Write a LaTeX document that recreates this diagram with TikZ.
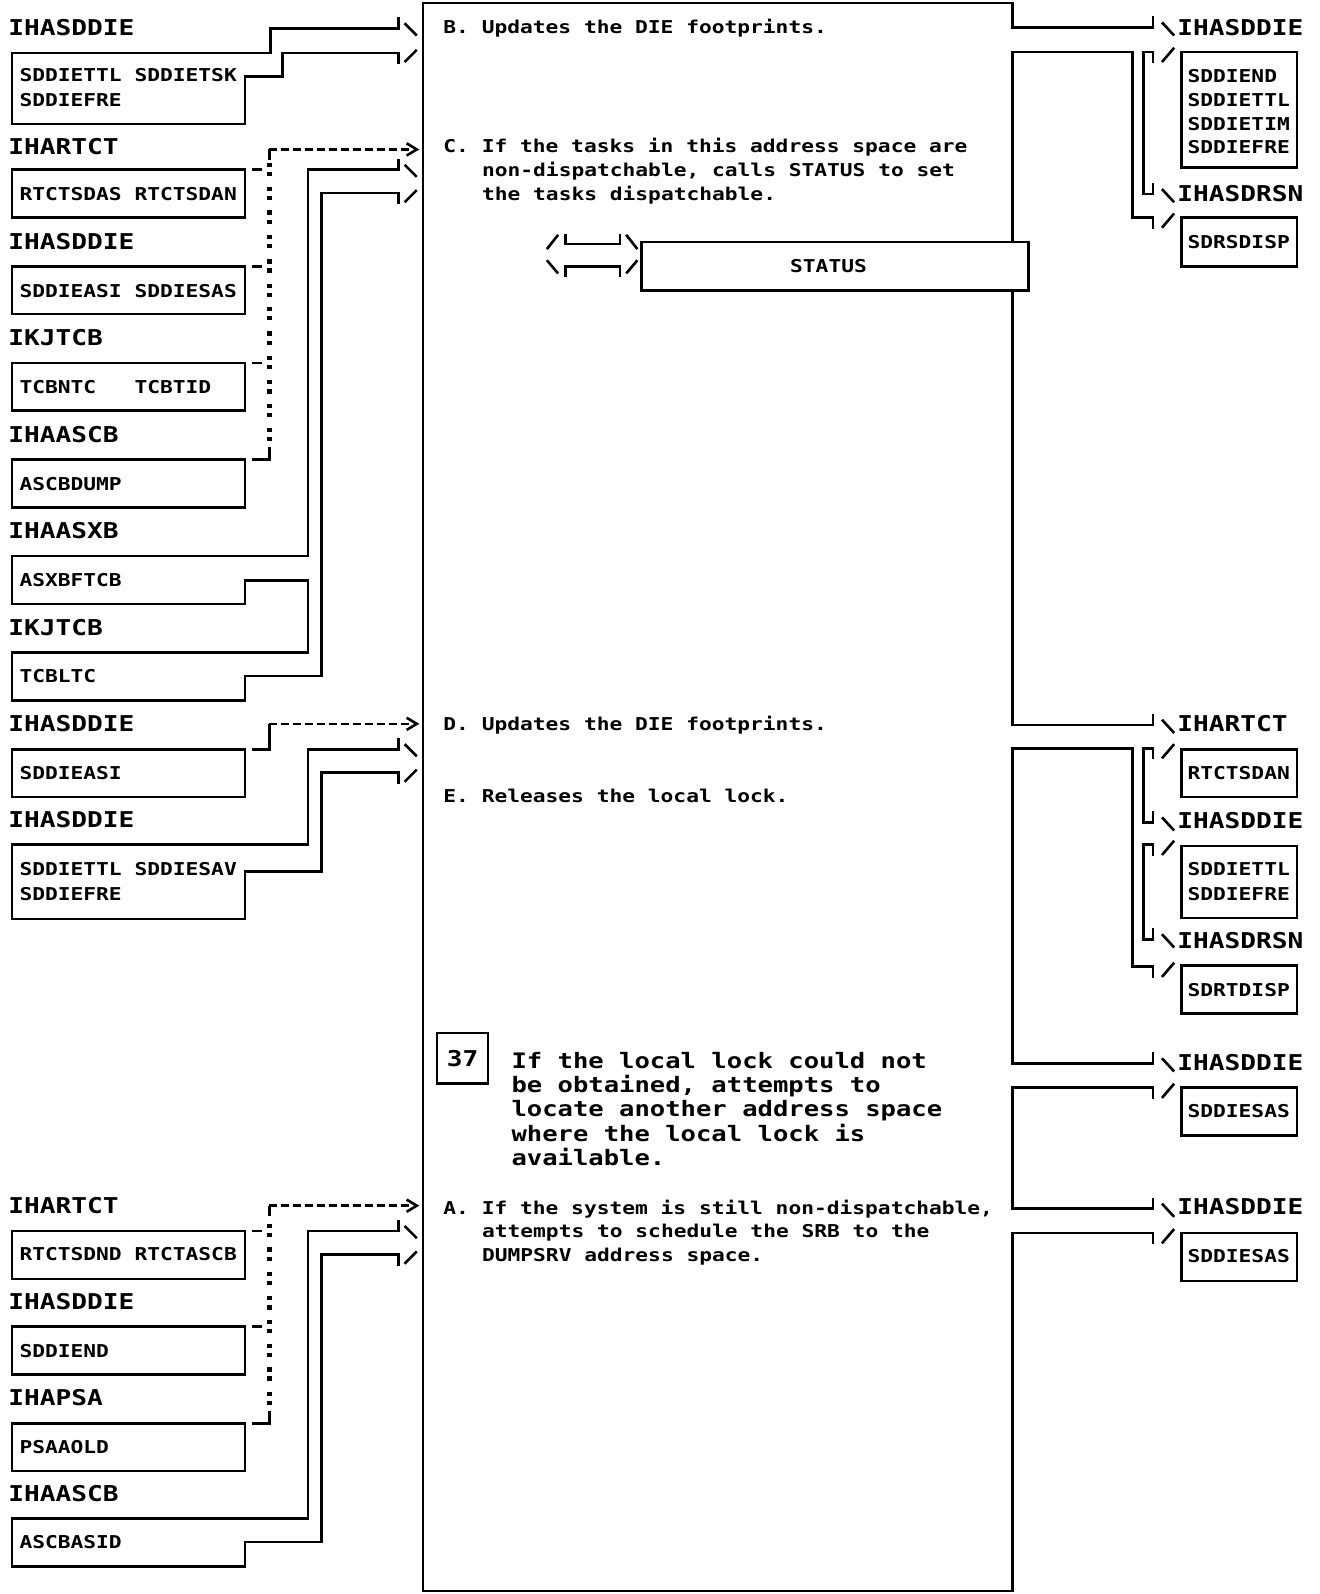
\documentclass[tikz,border=0pt]{standalone}
\usepackage{fontspec}
\newfontfamily\ibm[FakeStretch=1.2]{DejaVu Sans Mono}
\begin{document}
\begin{tikzpicture}[x=1.017pt,y=-1.017pt,
  ln/.style={line width=2.6pt, line join=miter},
  bx/.style={draw, line width=2.6pt, inner sep=0pt, outer sep=0pt, anchor=north west},
  lbl/.style={anchor=base west, inner sep=0pt, font=\ibm\bfseries\fontsize{21.8pt}{26pt}\selectfont, yshift=-7.95pt},
  txt/.style={anchor=base west, inner sep=0pt, font=\ibm\bfseries\fontsize{17.7pt}{24pt}\selectfont, yshift=-6.45pt},
  big/.style={anchor=base west, inner sep=0pt, font=\ibm\bfseries\fontsize{21.3pt}{25pt}\selectfont, yshift=-7.76pt},
  dsh/.style={line width=2.6pt, dash pattern=on 8pt off 4pt}
]
\useasboundingbox (0,0) rectangle (1298,1568);

% ---------------- left labels ----------------
\node[lbl] (l1) at (8,27) {IHASDDIE};
\node[lbl] (l2) at (8,144) {IHARTCT};
\node[lbl] (l3) at (8,238) {IHASDDIE};
\node[lbl] (l4) at (8,332) {IKJTCB};
\node[lbl] (l5) at (8,427) {IHAASCB};
\node[lbl] (l6) at (8,522) {IHAASXB};
\node[lbl] (l7) at (8,617) {IKJTCB};
\node[lbl] (l8) at (8,712) {IHASDDIE};
\node[lbl] (l9) at (8,806) {IHASDDIE};
\node[lbl] (l10) at (8,1186) {IHARTCT};
\node[lbl] (l11) at (8,1280) {IHASDDIE};
\node[lbl] (l12) at (8,1375) {IHAPSA};
\node[lbl] (l13) at (8,1469) {IHAASCB};

% ---------------- left closed boxes ----------------
\foreach \nm/\yy in {b2/167,b3/262,b4/357,b5/452,b8/737,b10/1211,b11/1305,b12/1400}
  \node[bx, minimum width={229*1.017pt}, minimum height={47*1.017pt}] (\nm) at (12,\yy) {};

% ---------------- left box texts ----------------
\node[txt] (t1a) at (19,74) {SDDIETTL SDDIETSK};
\node[txt] (t1b) at (19,98) {SDDIEFRE};
\node[txt] (t2) at (19,191) {RTCTSDAS RTCTSDAN};
\node[txt] (t3) at (19,286) {SDDIEASI SDDIESAS};
\node[txt] (t4) at (19,381) {TCBNTC\phantom{XXX}TCBTID};
\node[txt] (t5) at (19,476) {ASCBDUMP};
\node[txt] (t6) at (19,571) {ASXBFTCB};
\node[txt] (t7) at (19,665) {TCBLTC};
\node[txt] (t8) at (19,760) {SDDIEASI};
\node[txt] (t9a) at (19,855) {SDDIETTL SDDIESAV};
\node[txt] (t9b) at (19,879) {SDDIEFRE};
\node[txt] (t10) at (19,1234) {RTCTSDND RTCTASCB};
\node[txt] (t11) at (19,1329) {SDDIEND};
\node[txt] (t12) at (19,1423) {PSAAOLD};
\node[txt] (t13) at (19,1517) {ASCBASID};

% ---------------- left fat arrows (open boxes merged) ----------------
\draw[ln] (392,17) -- (392,28) -- (266,28) -- (266,52) -- (12,52) -- (12,122) -- (241,122) -- (241,75) -- (278,75) -- (278,52) -- (392,52) -- (392,63);
\draw[ln] (392,156) -- (392,167) -- (303,167) -- (303,547) -- (12,547) -- (12,594) -- (241,594) -- (241,571) -- (303,571) -- (303,642) -- (12,642) -- (12,689) -- (241,689) -- (241,665) -- (316,665) -- (316,190) -- (392,190) -- (392,201);
\draw[ln] (392,726) -- (392,737) -- (303,737) -- (303,831) -- (12,831) -- (12,904) -- (241,904) -- (241,857) -- (316,857) -- (316,760) -- (392,760) -- (392,771);
\draw[ln] (392,1200) -- (392,1211) -- (303,1211) -- (303,1494) -- (12,1494) -- (12,1541) -- (241,1541) -- (241,1517) -- (316,1517) -- (316,1234) -- (392,1234) -- (392,1245);
% slashes (arrow heads)
\foreach \yy in {28,167,737,1211} \draw[ln] (398,\yy-5) -- (410,\yy+7);
\foreach \yy in {52,190,760,1234} \draw[ln] (398,\yy+9) -- (410,\yy-3);

% ---------------- dashed reference arrows ----------------
\draw[ln] (265,157) -- (265,147);
\draw[dsh] (265,147) -- (403,147);
\draw[ln] (400,141) -- (410,147) -- (400,153);
\draw[ln] (248,737) -- (265,737) -- (265,712);
\draw[dsh] (265,712) -- (403,712);
\draw[ln] (400,706) -- (410,712) -- (400,718);
\draw[ln] (265,1196) -- (265,1186);
\draw[dsh] (265,1186) -- (403,1186);
\draw[ln] (400,1180) -- (410,1186) -- (400,1192);
% colon columns
\foreach \yy in {167,191,214,238,262,286,309,333,357,381,404,428,1211,1234,1258,1282,1305,1329,1352,1376} {
  \fill (263,\yy-7) rectangle (267.2,\yy-2.8);
  \fill (263,\yy+2) rectangle (267.2,\yy+6.2);
}
\foreach \yy in {167,262,357,1211,1305} \draw[ln] (248,\yy) -- (258,\yy);
\draw[ln] (248,452) -- (265,452) -- (265,440);
\draw[ln] (248,1400) -- (265,1400) -- (265,1388);

% ---------------- central box and right fat arrows ----------------
\draw[ln] (1134,16) -- (1134,27) -- (996,27) -- (996,3) -- (416,3) -- (416,1565) -- (996,1565) -- (996,1213) -- (1134,1213) -- (1134,1224);
\draw[ln] (1134,1178) -- (1134,1189) -- (996,1189) -- (996,1070) -- (1134,1070) -- (1134,1081);
\draw[ln] (1134,1035) -- (1134,1046) -- (996,1046) -- (996,736) -- (1114,736) -- (1114,951) -- (1134,951) -- (1134,962);
\draw[ln] (1134,702) -- (1134,713) -- (996,713) -- (996,51) -- (1114,51) -- (1114,214) -- (1134,214) -- (1134,225);
\draw[ln] (1134,62) -- (1134,51) -- (1125,51) -- (1125,191) -- (1134,191) -- (1134,180);
\draw[ln] (1134,747) -- (1134,736) -- (1125,736) -- (1125,809) -- (1134,809) -- (1134,798);
\draw[ln] (1134,842) -- (1134,831) -- (1125,831) -- (1125,924) -- (1134,924) -- (1134,913);
\foreach \yy in {27,191,713,809,924,1046,1189} \draw[ln] (1143,\yy-5) -- (1155,\yy+8);
\foreach \yy in {51,214,736,831,951,1070,1213} \draw[ln] (1143,\yy+10) -- (1155,\yy-4);

% ---------------- right labels and boxes ----------------
\node[lbl] (r1) at (1158,27) {IHASDDIE};
\node[lbl] (r2) at (1158,190) {IHASDRSN};
\node[lbl] (r3) at (1158,712) {IHARTCT};
\node[lbl] (r4) at (1158,807) {IHASDDIE};
\node[lbl] (r5) at (1158,925) {IHASDRSN};
\node[lbl] (r6) at (1158,1045) {IHASDDIE};
\node[lbl] (r7) at (1158,1187) {IHASDDIE};

\node[bx, minimum width={114*1.017pt}, minimum height={114*1.017pt}] (rb1) at (1162,51) {};
\node[bx, minimum width={114*1.017pt}, minimum height={48*1.017pt}] (rb2) at (1162,214) {};
\node[bx, minimum width={114*1.017pt}, minimum height={47*1.017pt}] (rb3) at (1162,737) {};
\node[bx, minimum width={114*1.017pt}, minimum height={71*1.017pt}] (rb4) at (1162,832) {};
\node[bx, minimum width={114*1.017pt}, minimum height={47*1.017pt}] (rb5) at (1162,950) {};
\node[bx, minimum width={114*1.017pt}, minimum height={47*1.017pt}] (rb6) at (1162,1070) {};
\node[bx, minimum width={114*1.017pt}, minimum height={47*1.017pt}] (rb7) at (1162,1213) {};

\node[txt] (rt1a) at (1168,75) {SDDIEND};
\node[txt] (rt1b) at (1168,98) {SDDIETTL};
\node[txt] (rt1c) at (1168,122) {SDDIETIM};
\node[txt] (rt1d) at (1168,145) {SDDIEFRE};
\node[txt] (rt2) at (1168,238) {SDRSDISP};
\node[txt] (rt3) at (1168,760) {RTCTSDAN};
\node[txt] (rt4a) at (1168,855) {SDDIETTL};
\node[txt] (rt4b) at (1168,879) {SDDIEFRE};
\node[txt] (rt5) at (1168,974) {SDRTDISP};
\node[txt] (rt6) at (1168,1093) {SDDIESAS};
\node[txt] (rt7) at (1168,1236) {SDDIESAS};

% ---------------- central texts ----------------
\node[txt] (sb) at (436,27) {B. Updates the DIE footprints.};
\node[txt] (sc1) at (436,144) {C. If the tasks in this address space are};
\node[txt] (sc2) at (474,167) {non-dispatchable, calls STATUS to set};
\node[txt] (sc3) at (474,191) {the tasks dispatchable.};
\node[bx, fill=white, minimum width={381*1.017pt}, minimum height={48*1.017pt}] (status) at (631,238) {};
\node[txt, anchor=base] (statust) at (815,262) {STATUS};
\draw[ln] (538,245) -- (549,231);
\draw[ln] (556,230) -- (556,240) -- (610,240) -- (610,230);
\draw[ln] (616,231) -- (627,245);
\draw[ln] (538,256) -- (549,269);
\draw[ln] (556,272) -- (556,262) -- (610,262) -- (610,272);
\draw[ln] (616,269) -- (627,256);

\node[txt] (sd) at (436,712) {D. Updates the DIE footprints.};
\node[txt] (se) at (436,783) {E. Releases the local lock.};

\node[bx, minimum width={50*1.017pt}, minimum height={50*1.017pt}] (n37) at (430,1016) {};
\node[lbl, anchor=base] (n37t) at (455,1041) {37};
\node[big] (g1) at (503,1043) {If the local lock could not};
\node[big] (g2) at (503,1067) {be obtained, attempts to};
\node[big] (g3) at (503,1091) {locate another address space};
\node[big] (g4) at (503,1115) {where the local lock is};
\node[big] (g5) at (503,1139) {available.};

\node[txt] (sa1) at (436,1188) {A. If the system is still non-dispatchable,};
\node[txt] (sa2) at (474,1211) {attempts to schedule the SRB to the};
\node[txt] (sa3) at (474,1235) {DUMPSRV address space.};
\end{tikzpicture}
\end{document}
